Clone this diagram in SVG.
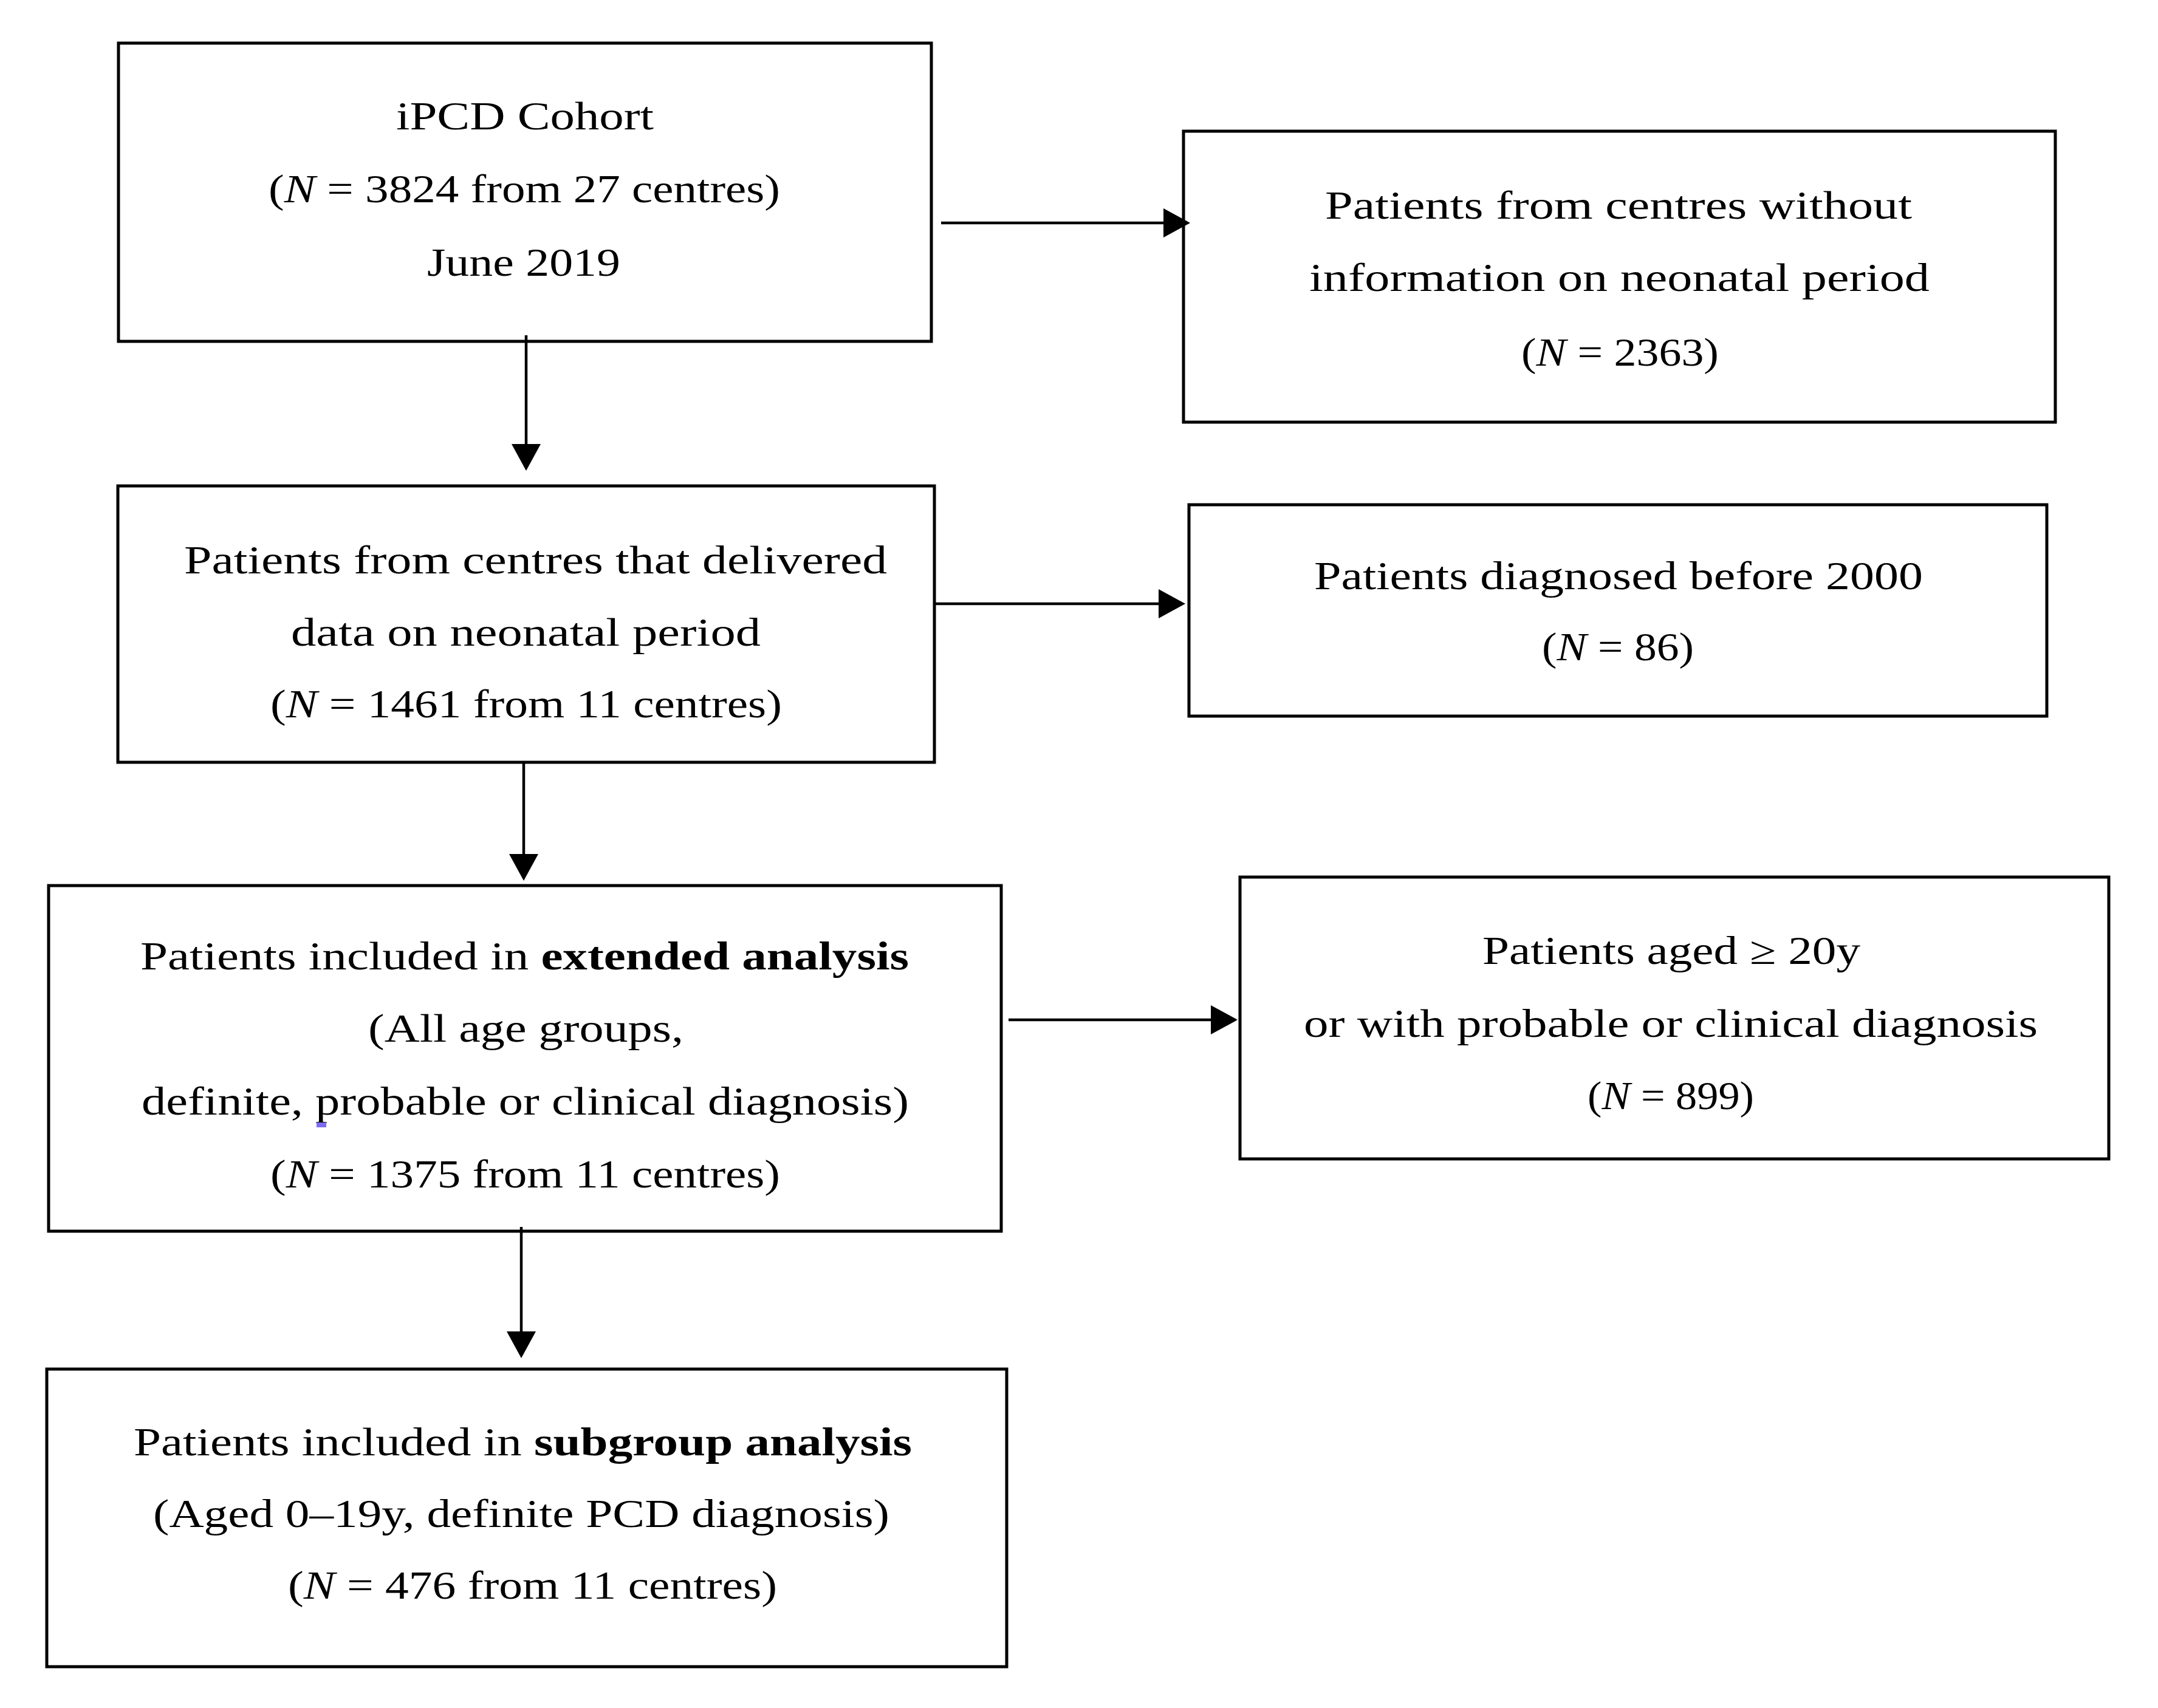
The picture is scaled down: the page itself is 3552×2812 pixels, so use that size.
<svg xmlns="http://www.w3.org/2000/svg" width="3552" height="2812" viewBox="0 0 3552 2812">
<style>
.box{fill:#ffffff;stroke:#000000;stroke-width:5}
.t{font-family:"Liberation Serif","Times New Roman",serif;font-size:65px;fill:#000000}
.i{font-style:italic}
.b{font-weight:bold}
.conn{stroke:#000000;stroke-width:4.5;fill:none}
</style>
<defs>
<marker id="ah" markerUnits="userSpaceOnUse" markerWidth="44" markerHeight="48" viewBox="0 0 44 48" refX="0" refY="24" orient="auto">
<path d="M0,0 L44,24 L0,48 Z" fill="#000000"/>
</marker>
</defs>
<rect x="0" y="0" width="3552" height="2812" fill="#ffffff"/>

<g id="node-cohort">
<rect class="box" x="195" y="71" width="1338" height="491"/>
<text class="t" x="652" y="213" textLength="424" lengthAdjust="spacingAndGlyphs">iPCD Cohort</text>
<text class="t" x="442" y="333" textLength="842" lengthAdjust="spacingAndGlyphs">(<tspan class="i">N</tspan> = 3824 from 27 centres)</text>
<text class="t" x="703" y="454" textLength="318" lengthAdjust="spacingAndGlyphs">June 2019</text>
</g>

<g id="node-excluded-no-info">
<rect class="box" x="1948" y="216" width="1435" height="479"/>
<text class="t" x="2181" y="360" textLength="966" lengthAdjust="spacingAndGlyphs">Patients from centres without</text>
<text class="t" x="2155" y="479" textLength="1021" lengthAdjust="spacingAndGlyphs">information on neonatal period</text>
<text class="t" x="2504" y="602" textLength="325" lengthAdjust="spacingAndGlyphs">(<tspan class="i">N</tspan> = 2363)</text>
</g>

<g id="node-delivered">
<rect class="box" x="194" y="800" width="1344" height="455"/>
<text class="t" x="303" y="944" textLength="1157" lengthAdjust="spacingAndGlyphs">Patients from centres that delivered</text>
<text class="t" x="479" y="1063" textLength="773" lengthAdjust="spacingAndGlyphs">data on neonatal period</text>
<text class="t" x="445" y="1181" textLength="842" lengthAdjust="spacingAndGlyphs">(<tspan class="i">N</tspan> = 1461 from 11 centres)</text>
</g>

<g id="node-before-2000">
<rect class="box" x="1957" y="831" width="1412" height="348"/>
<text class="t" x="2163" y="970" textLength="1002" lengthAdjust="spacingAndGlyphs">Patients diagnosed before 2000</text>
<text class="t" x="2538" y="1087" textLength="250" lengthAdjust="spacingAndGlyphs">(<tspan class="i">N</tspan> = 86)</text>
</g>

<g id="node-extended">
<rect class="box" x="80" y="1458" width="1568" height="569"/>
<text class="t" x="231" y="1596" textLength="1265" lengthAdjust="spacingAndGlyphs">Patients included in <tspan class="b">extended analysis</tspan></text>
<text class="t" x="606" y="1715" textLength="519" lengthAdjust="spacingAndGlyphs">(All age groups,</text>
<text class="t" x="233" y="1835" textLength="1263" lengthAdjust="spacingAndGlyphs">definite, probable or clinical diagnosis)</text>
<text class="t" x="445" y="1955" textLength="839" lengthAdjust="spacingAndGlyphs">(<tspan class="i">N</tspan> = 1375 from 11 centres)</text>
<rect x="521" y="1848" width="16" height="8" fill="#7b6cf0"/>
</g>

<g id="node-aged-20">
<rect class="box" x="2041" y="1444" width="1430" height="464"/>
<text class="t" x="2440" y="1587" textLength="622" lengthAdjust="spacingAndGlyphs">Patients aged ≥ 20y</text>
<text class="t" x="2146" y="1707" textLength="1208" lengthAdjust="spacingAndGlyphs">or with probable or clinical diagnosis</text>
<text class="t" x="2613" y="1826" textLength="274" lengthAdjust="spacingAndGlyphs">(<tspan class="i">N</tspan> = 899)</text>
</g>

<g id="node-subgroup">
<rect class="box" x="77" y="2254" width="1580" height="490"/>
<text class="t" x="220" y="2396" textLength="1281" lengthAdjust="spacingAndGlyphs">Patients included in <tspan class="b">subgroup analysis</tspan></text>
<text class="t" x="252" y="2514" textLength="1212" lengthAdjust="spacingAndGlyphs">(Aged 0–19y, definite PCD diagnosis)</text>
<text class="t" x="474" y="2632" textLength="805" lengthAdjust="spacingAndGlyphs">(<tspan class="i">N</tspan> = 476 from 11 centres)</text>
</g>

<g id="connectors">
<path class="conn" d="M1549,367 H1915" marker-end="url(#ah)"/>
<path class="conn" d="M866,552 V731" marker-end="url(#ah)"/>
<path class="conn" d="M1540,994 H1907" marker-end="url(#ah)"/>
<path class="conn" d="M862,1255 V1406" marker-end="url(#ah)"/>
<path class="conn" d="M1660,1679 H1993" marker-end="url(#ah)"/>
<path class="conn" d="M858,2020 V2192" marker-end="url(#ah)"/>
</g>
</svg>
